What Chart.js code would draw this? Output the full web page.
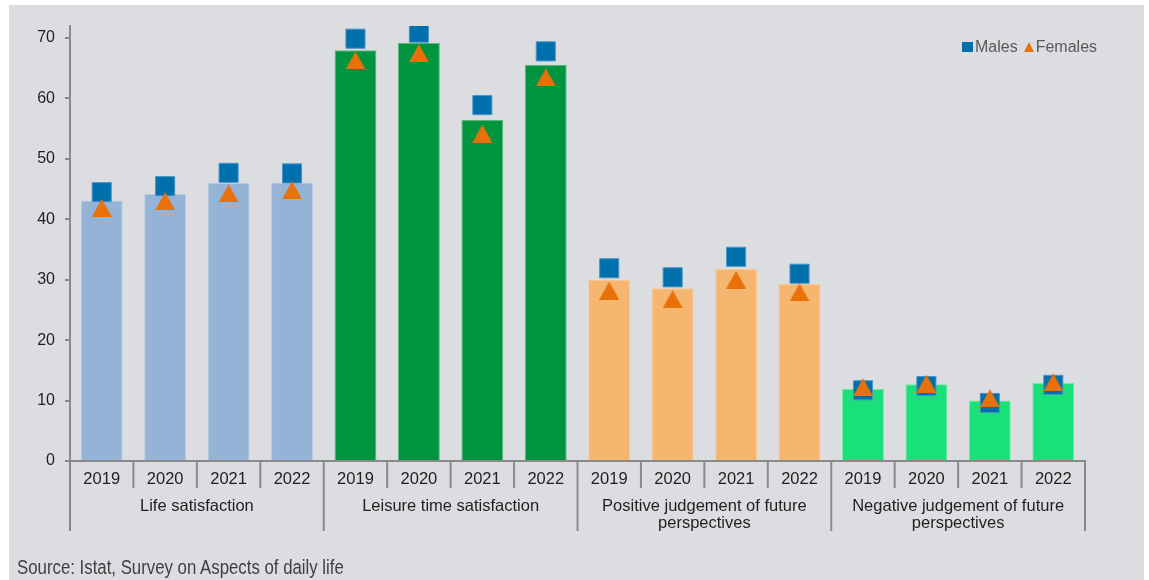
<!DOCTYPE html>
<html lang="en">
<head>
    <meta charset="UTF-8">
    <title>Subjective well-being by sex, 2019-2022</title>
    <script src="https://cdn.jsdelivr.net/npm/chart.js"></script>
    <style>
        body { margin: 0; background: #fff; font-family: 'Liberation Sans', Arial, sans-serif; }
        #frame { position: relative; width: 1149px; height: 580px; }
        #panel { position: absolute; left: 9px; top: 5px; width: 1135px; height: 575px; background: #dcdde0; }
        #wrap { position: absolute; left: 0; top: 0; width: 1149px; height: 580px; }
        #legend { position: absolute; top: 37px; left: 962px; height: 20px; font-size: 16px; color: #595959; line-height: 20px; white-space: nowrap; }
        #legend span { display: inline-block; vertical-align: top; }
        .sq { width: 11px; height: 10px; background: #0070ac; margin-top: 5px; margin-right: 2px; }
        .tri { width: 0; height: 0; border-left: 5.5px solid transparent; border-right: 5.5px solid transparent; border-bottom: 10px solid #e8710a; margin-top: 5px; margin-left: 6px; margin-right: 2px; }
        /* narrow face for the source line */
        #source { position: absolute; left: 17px; top: 557px; font-size: 20px; line-height: 20px; color: #404040; white-space: nowrap; transform: scaleX(0.84); transform-origin: left top; }
    </style>
</head>
<body>
<div id="frame">
    <div id="panel"></div>
    <div id="wrap"><canvas id="myChart"></canvas></div>
    <div id="legend"><span class="sq"></span><span>Males</span><span class="tri"></span><span>Females</span></div>
    <div id="source">Source: Istat, Survey on Aspects of daily life</div>
</div>
<script>
    // years inside each indicator, and the indicator names
    const years = ['2019', '2020', '2021', '2022'];
    const indicators = [
        'Life satisfaction',
        'Leisure time satisfaction',
        ['Positive judgement of future', 'perspectives'],
        ['Negative judgement of future', 'perspectives']
    ];

    // total (bars), males and females, % - four years per indicator
    const total = [43.1, 44.2, 46.0, 46.1, 68.0, 69.2, 56.5, 65.6, 30.0, 28.6, 31.8, 29.3, 11.9, 12.7, 10.0, 12.9];
    const males = [44.5, 45.5, 47.7, 47.6, 69.9, 70.9, 58.9, 67.8, 31.9, 30.4, 33.8, 31.0, 11.7, 12.4, 9.6, 12.6];
    const females = [41.9, 43.0, 44.3, 44.8, 66.3, 67.5, 54.2, 63.5, 28.2, 26.8, 30.0, 27.9, 12.2, 12.8, 10.4, 13.0];

    const yTicks = [0, 10, 20, 30, 40, 50, 60, 70];

    const fills = ['#95b3d7', '#00943f', '#f6b670', '#19e078'];
    const edges = ['#b7cbe4', '#5cb57f', '#f8cb98', '#6feaa6'];
    const axisGray = '#8a8a8a';

    const labels = indicators.flatMap(() => years);
    const groupOf = i => Math.floor(i / years.length);

    // triangle marker, drawn centred on the value
    const tri = document.createElement('canvas');
    tri.width = 20;
    tri.height = 18;
    const tctx = tri.getContext('2d');
    tctx.fillStyle = '#e8710a';
    tctx.beginPath();
    tctx.moveTo(0, 18);
    tctx.lineTo(10, 0);
    tctx.lineTo(20, 18);
    tctx.closePath();
    tctx.fill();

    // separators under the x axis: short between years, long between indicators
    const separators = {
        id: 'separators',
        afterDraw(chart) {
            const { ctx, chartArea } = chart;
            const x = chart.scales.x;
            const step = x.getPixelForTick(1) - x.getPixelForTick(0);
            const start = x.getPixelForTick(0) - step / 2;
            ctx.save();
            ctx.strokeStyle = axisGray;
            ctx.lineWidth = 2;
            for (let i = 0; i <= labels.length; i++) {
                const px = start + i * step;
                const len = i % years.length === 0 ? 70 : 27;
                ctx.beginPath();
                ctx.moveTo(px, chartArea.bottom);
                ctx.lineTo(px, chartArea.bottom + len);
                ctx.stroke();
            }
            ctx.restore();
        }
    };

    Chart.defaults.font.family = "'Liberation Sans', Arial, sans-serif";
    Chart.defaults.color = '#1f1f1f';

    const ctx = document.getElementById('myChart').getContext('2d');
    const myChart = new Chart(ctx, {
        type: 'bar',
        data: {
            labels: labels,
            datasets: [
                {
                    label: 'Total',
                    data: total,
                    backgroundColor: total.map((v, i) => fills[groupOf(i)]),
                    borderColor: total.map((v, i) => edges[groupOf(i)]),
                    borderWidth: 1,
                    barPercentage: 0.66,
                    categoryPercentage: 1,
                    order: 3
                },
                {
                    type: 'line',
                    label: 'Males',
                    data: males,
                    showLine: false,
                    pointStyle: 'rect',
                    pointRadius: 13.5,
                    pointHoverRadius: 13.5,
                    backgroundColor: '#0070ac',
                    borderColor: '#4a93c4',
                    borderWidth: 1,
                    order: 2
                },
                {
                    type: 'line',
                    label: 'Females',
                    data: females,
                    showLine: false,
                    pointStyle: tri,
                    pointRadius: 10,
                    backgroundColor: '#e8710a',
                    borderColor: '#e8710a',
                    order: 1
                }
            ]
        },
        options: {
            responsive: true,
            maintainAspectRatio: false,
            animation: false,
            layout: { padding: { top: 26, right: 64, bottom: 45, left: 0 } },
            plugins: {
                legend: { display: false },
                tooltip: { enabled: false }
            },
            scales: {
                y: {
                    min: 0,
                    max: 72,
                    afterFit: s => { s.width = 70; },
                    afterBuildTicks: s => { s.ticks = yTicks.map(v => ({ value: v })); },
                    border: { color: axisGray, width: 2 },
                    grid: { drawOnChartArea: false, tickLength: 5, color: axisGray, lineWidth: 2 },
                    ticks: { padding: 10, font: { size: 16 }, color: '#1f1f1f' }
                },
                x: {
                    afterFit: s => { s.height = 29; },
                    border: { color: axisGray, width: 2 },
                    grid: { display: false },
                    ticks: { padding: 1, font: { size: 16.5 }, color: '#1f1f1f', maxRotation: 0, autoSkip: false }
                },
                x2: {
                    type: 'category',
                    position: 'bottom',
                    labels: indicators,
                    afterFit: s => { s.height = 45; },
                    border: { display: false },
                    grid: { display: false },
                    ticks: { padding: 0, font: { size: 16.5, lineHeight: '17px' }, color: '#1f1f1f', maxRotation: 0, autoSkip: false }
                }
            }
        },
        plugins: [separators]
    });
</script>
</body>
</html>
